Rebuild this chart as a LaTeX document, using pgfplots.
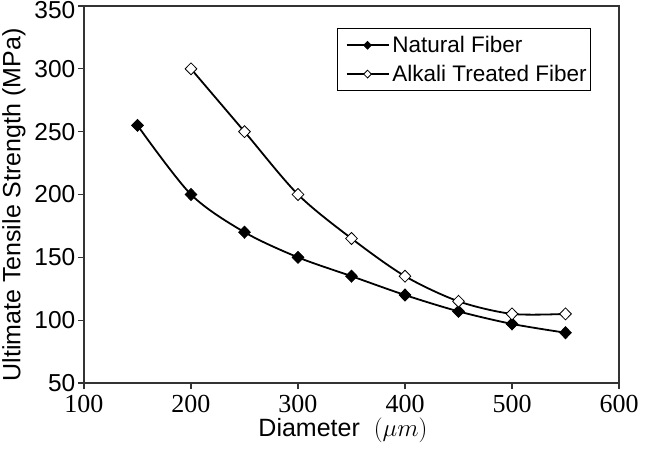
\documentclass[border=0pt]{standalone}
\usepackage{fontspec}
\setmainfont{Liberation Sans}
\newfontfamily\serifx{Liberation Serif}
\usepackage{pgfplots}
\pgfplotsset{compat=1.18}
\begin{document}
\begin{tikzpicture}
\begin{axis}[
  scale only axis, width=535pt, height=377pt,
  xmin=100, xmax=600, ymin=50, ymax=350,
  xtick={100,200,...,600}, ytick={50,100,...,300},
  extra y ticks={350},
  extra y tick style={yticklabel style={yshift=-4pt}},
  tick align=outside, tick pos=left, major tick length=6pt,
  axis line style={line width=1.2pt, black!80},
  every tick/.style={line width=1.2pt, black!80},
  /pgf/number format/assume math mode=true,
  yticklabel style={font=\fontsize{24.5}{28}\selectfont, inner xsep=2.5pt, inner ysep=0pt},
  xticklabel style={font=\serifx\fontsize{26}{29}\selectfont, inner xsep=2pt, inner ysep=0pt, yshift=-6pt},
  xlabel={Diameter~~$(\mu m)$},
  ylabel={Ultimate Tensile Strength (MPa)},
  xlabel style={font=\fontsize{25}{28}\selectfont, at={(axis description cs:0.484,-0.1406)}, anchor=base},
  ylabel style={font=\fontsize{25}{28}\selectfont, at={(axis description cs:-0.131,0.472)}, anchor=center},
  legend style={at={(axis description cs:0.948,0.942)}, anchor=north east,
    draw=black, line width=1pt, fill=white, font=\fontsize{22.5}{26}\selectfont,
    row sep=7pt, inner xsep=1pt, inner ysep=6pt,
    /tikz/every even column/.append style={column sep=2pt},
    nodes={inner xsep=3pt}},
  legend cell align=left,
  legend image code/.code={\path (0pt,0pt); \draw[mark repeat=2,mark phase=2,#1, every mark/.append style={scale=0.65}] plot coordinates {(7pt,0pt) (28pt,0pt) (49pt,0pt)};},
]
\coordinate (bl) at (rel axis cs:0,0);
\coordinate (tr) at (rel axis cs:1,1);
\addplot[black, line width=1.8pt, smooth, tension=0.5, mark=diamond*, mark size=6pt,
  mark options={fill=black, line width=0.8pt, xscale=1.3}]
  coordinates {(150,255) (200,200) (250,170) (300,150) (350,135) (400,120) (450,107) (500,97) (550,90)};
\addlegendentry{Natural Fiber}
\addplot[black, line width=1.8pt, smooth, tension=0.5, mark=diamond*, mark size=6pt,
  mark options={fill=white, line width=0.8pt, xscale=1.3}]
  coordinates {(200,300) (250,250) (300,200) (350,165) (400,135) (450,115) (500,105) (550,105)};
\addlegendentry{Alkali Treated Fiber}
\end{axis}
\pgfresetboundingbox
\path[use as bounding box] ([xshift=-84pt,yshift=-77pt]bl) rectangle ([xshift=26pt,yshift=6pt]tr);
\end{tikzpicture}
\end{document}
